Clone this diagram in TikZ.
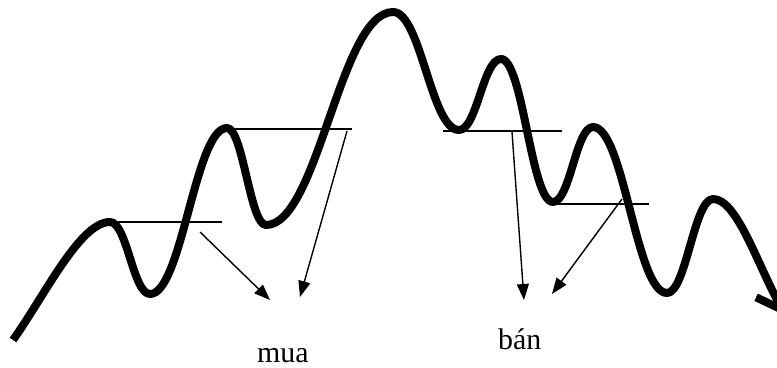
\documentclass[tikz,border=0pt]{standalone}
\usepackage{fontspec}
\setmainfont{Liberation Serif}
\usetikzlibrary{arrows.meta}
\tikzset{
  wave/.style={line width=8bp, line join=round, line cap=butt},
  level/.style={line width=1.3bp},
  signal/.style={line width=1.4bp, -{Triangle[length=16bp,width=12bp]}},
  lbl/.style={inner sep=0pt, anchor=base west, font=\fontsize{30}{36}\selectfont}
}
\begin{document}
\begin{tikzpicture}[x=1bp,y=-1bp]
\useasboundingbox (0,0) rectangle (777,367);
% key points of the price curve
\coordinate (S) at (13,340);
\coordinate (P1) at (110,222);
\coordinate (T1) at (150,294);
\coordinate (P2) at (227,128);
\coordinate (T2) at (266,225);
\coordinate (P3) at (393,12);
\coordinate (T3) at (459,130);
\coordinate (P4) at (501,59);
\coordinate (T4) at (553,202);
\coordinate (P5) at (593,127);
\coordinate (T5) at (667,293);
\coordinate (P6) at (713,199);
\coordinate (E) at (786,316);
\draw[wave, -{Straight Barb[length=24bp,width=34bp]}]
  (S) .. controls (45,295) and (80,222) .. (P1)
      .. controls (127,222) and (133,294) .. (T1)
      .. controls (182,294) and (195,128) .. (P2)
      .. controls (243,128) and (250,225) .. (T2)
      .. controls (318,225) and (340,12) .. (P3)
      .. controls (421,12) and (431,130) .. (T3)
      .. controls (477,130) and (483,59) .. (P4)
      .. controls (523,59) and (531,202) .. (T4)
      .. controls (570,202) and (576,127) .. (P5)
      .. controls (624,127) and (636,293) .. (T5)
      .. controls (686,293) and (694,199) .. (P6)
      .. controls (737,199) and (757,264) .. (E);
% level lines
\coordinate (L1a) at (118,222); \coordinate (L1b) at (222,222);
\coordinate (L2a) at (232,129); \coordinate (L2b) at (352,129);
\coordinate (L3a) at (443,131); \coordinate (L3b) at (562,131);
\coordinate (L4a) at (553,204); \coordinate (L4b) at (649,204);
\draw[level] (L1a) -- (L1b);
\draw[level] (L2a) -- (L2b);
\draw[level] (L3a) -- (L3b);
\draw[level] (L4a) -- (L4b);
% labels
\node[lbl] (mua) at (257,362) {mua};
\node[lbl] (ban) at (498,349) {bán};
% signal arrows
\coordinate (A1s) at (200,232); \coordinate (A1e) at (270,300);
\coordinate (A2s) at (347,131); \coordinate (A2e) at (300,297);
\coordinate (A3s) at (512,132); \coordinate (A3e) at (524,300);
\coordinate (A4s) at (622,199); \coordinate (A4e) at (552,294);
\draw[signal] (A1s) -- (A1e);
\draw[signal] (A2s) -- (A2e);
\draw[signal] (A3s) -- (A3e);
\draw[signal] (A4s) -- (A4e);
\end{tikzpicture}
\end{document}
